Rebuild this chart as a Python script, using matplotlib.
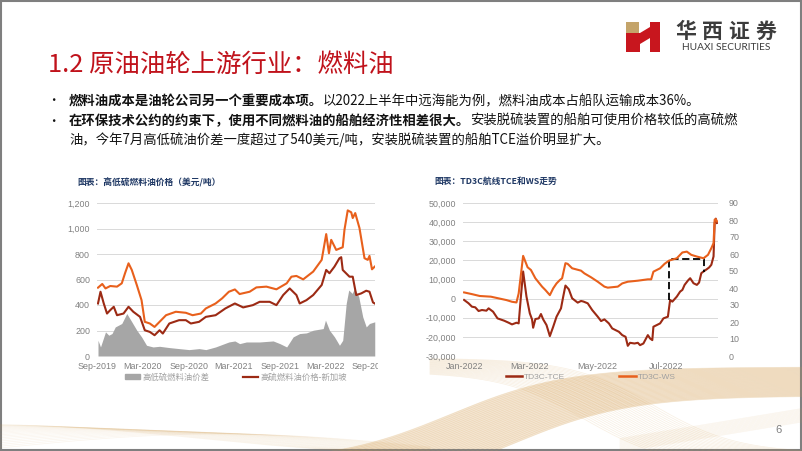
import matplotlib
matplotlib.use('Agg')
import matplotlib.pyplot as plt
import matplotlib.dates as mdates
from matplotlib.ticker import FuncFormatter, MultipleLocator
from matplotlib.patches import Rectangle, Polygon, Patch
from matplotlib.lines import Line2D
from matplotlib.transforms import Bbox
import numpy as np
import pandas as pd

# ---------------- data: left chart (USD/ton) ----------------
lsfo_dates = ['2019-09-05', '2019-09-22', '2019-10-05', '2019-10-24', '2019-11-20', '2019-12-09',
              '2019-12-22', '2020-01-05', '2020-01-18', '2020-02-07', '2020-02-26', '2020-03-10',
              '2020-03-30', '2020-04-18', '2020-05-08', '2020-06-03', '2020-07-12', '2020-08-21',
              '2020-09-17', '2020-10-20', '2020-11-09', '2020-12-18', '2021-01-13', '2021-02-09',
              '2021-03-05', '2021-03-24', '2021-05-03', '2021-05-30', '2021-07-09', '2021-08-18',
              '2021-09-28', '2021-10-17', '2021-11-06', '2021-12-03', '2022-01-12', '2022-02-15',
              '2022-03-05', '2022-03-16', '2022-03-25', '2022-04-14', '2022-05-10', '2022-05-17',
              '2022-05-30', '2022-06-13', '2022-06-19', '2022-06-29', '2022-07-16', '2022-08-05',
              '2022-08-18', '2022-08-25', '2022-09-04', '2022-09-15']
lsfo_vals = [536, 565, 530, 549, 544, 570, 649, 727, 675, 557, 438, 268, 255, 228, 268, 320, 347, 339,
             320, 333, 373, 412, 452, 504, 522, 486, 504, 538, 544, 523, 570, 622, 628, 601, 662, 754,
             956, 806, 911, 832, 853, 990, 1142, 1127, 1082, 1121, 1003, 767, 754, 785, 680, 701]

hsfo_dates = ['2019-09-05', '2019-09-15', '2019-09-28', '2019-10-11', '2019-10-24', '2019-11-07',
              '2019-11-20', '2019-12-16', '2020-01-05', '2020-01-24', '2020-02-20', '2020-03-10',
              '2020-03-30', '2020-04-18', '2020-05-08', '2020-05-21', '2020-06-16', '2020-07-25',
              '2020-08-21', '2020-09-10', '2020-10-13', '2020-11-09', '2020-12-18', '2021-01-26',
              '2021-03-05', '2021-04-07', '2021-05-16', '2021-06-12', '2021-07-22', '2021-08-18',
              '2021-09-14', '2021-10-10', '2021-11-06', '2021-11-19', '2021-12-16', '2022-01-12',
              '2022-02-15', '2022-03-05', '2022-03-18', '2022-04-07', '2022-04-27', '2022-05-04',
              '2022-05-10', '2022-06-06', '2022-06-19', '2022-07-03', '2022-07-23', '2022-08-12',
              '2022-08-25', '2022-09-08', '2022-09-15']
hsfo_vals = [412, 504, 412, 333, 360, 386, 320, 333, 386, 347, 307, 202, 189, 163, 202, 176, 255, 281,
             281, 255, 268, 307, 320, 373, 412, 381, 399, 425, 425, 399, 478, 530, 478, 412, 438, 478,
             557, 675, 649, 701, 767, 775, 675, 622, 622, 478, 491, 512, 504, 420, 412]

spread_dates = ['2019-09-05', '2019-09-15', '2019-10-05', '2019-10-18', '2019-10-31', '2019-11-13',
                '2019-12-09', '2019-12-29', '2020-01-18', '2020-02-07', '2020-02-26', '2020-03-17',
                '2020-04-12', '2020-05-08', '2020-06-16', '2020-07-25', '2020-09-03', '2020-10-13',
                '2020-11-09', '2020-12-18', '2021-02-09', '2021-03-05', '2021-03-24', '2021-04-20',
                '2021-06-12', '2021-08-05', '2021-09-01', '2021-09-28', '2021-10-24', '2021-11-19',
                '2021-12-16', '2022-01-12', '2022-02-21', '2022-03-02', '2022-03-18', '2022-04-07',
                '2022-04-27', '2022-05-10', '2022-05-24', '2022-06-03', '2022-06-17', '2022-06-26',
                '2022-07-13', '2022-07-29', '2022-08-12', '2022-08-25', '2022-09-15']
spread_vals = [123, 71, 189, 163, 176, 228, 255, 333, 268, 202, 150, 84, 71, 76, 66, 58, 50, 58, 50, 71,
               110, 118, 97, 110, 110, 118, 97, 71, 150, 176, 181, 202, 215, 281, 202, 150, 84, 123,
               412, 517, 491, 530, 465, 307, 228, 255, 268]

left_yticks = [0, 200, 400, 600, 800, 1000, 1200]
left_legend = ['高低硫燃料油价差', '高硫燃料油价格-新加坡']

# ---------------- data: right chart ----------------
tce_dates = ['2022-01-01', '2022-01-05', '2022-01-08', '2022-01-11', '2022-01-14', '2022-01-17',
             '2022-01-21', '2022-01-23', '2022-01-27', '2022-01-31', '2022-02-06', '2022-02-10',
             '2022-02-13', '2022-02-17', '2022-02-19', '2022-02-21', '2022-02-23', '2022-02-26',
             '2022-03-01', '2022-03-03', '2022-03-04', '2022-03-06', '2022-03-09', '2022-03-11',
             '2022-03-13', '2022-03-16', '2022-03-19', '2022-03-22', '2022-03-25', '2022-03-29',
             '2022-03-31', '2022-04-02', '2022-04-05', '2022-04-08', '2022-04-13', '2022-04-16',
             '2022-04-18', '2022-04-22', '2022-04-26', '2022-05-01', '2022-05-04', '2022-05-07',
             '2022-05-11', '2022-05-14', '2022-05-17', '2022-05-20', '2022-05-23', '2022-05-26',
             '2022-05-28', '2022-05-30', '2022-06-03', '2022-06-06', '2022-06-08', '2022-06-11',
             '2022-06-15', '2022-06-17', '2022-06-19', '2022-06-20', '2022-06-23', '2022-06-26',
             '2022-06-29', '2022-07-03', '2022-07-05', '2022-07-07', '2022-07-11', '2022-07-14',
             '2022-07-16', '2022-07-18', '2022-07-21', '2022-07-23', '2022-07-26', '2022-07-29',
             '2022-07-31', '2022-08-02', '2022-08-04', '2022-08-07', '2022-08-09', '2022-08-11',
             '2022-08-13', '2022-08-14', '2022-08-15', '2022-08-16']
tce_vals = [-700, -2450, -4200, -4550, -6480, -5950, -6300, -5080, -6830, -10330, -11550, -12600,
            -13480, -12600, -12950, 1050, 14180, 1050, -7700, -10850, -15230, -10680, -10330, -8050,
            -10850, -13830, -19600, -14700, -9450, -5080, 1050, 6830, 4900, 175, -2100, -1230,
            -1500, -2450, -5950, -9450, -11730, -10850, -12950, -15580, -16460, -17330, -19080, -19960,
            -24680, -23100, -23460, -23100, -24330, -23460, -19080, -20830, -21700, -14700, -13830, -12950,
            -10330, -9450, -700, -1580, 1050, 3680, 4550, 7180, 9450, 10680, 8050, 7180,
            8400, 13300, 14180, 15400, 16280, 17680, 22060, 39550, 41830, 39550]

ws_dates = ['2022-01-01', '2022-01-08', '2022-01-15', '2022-01-25', '2022-02-01', '2022-02-08',
            '2022-02-13', '2022-02-17', '2022-02-19', '2022-02-23', '2022-02-27', '2022-03-02',
            '2022-03-06', '2022-03-12', '2022-03-15', '2022-03-19', '2022-03-22', '2022-03-25',
            '2022-03-28', '2022-03-30', '2022-04-02', '2022-04-04', '2022-04-08', '2022-04-16',
            '2022-04-19', '2022-04-25', '2022-05-01', '2022-05-07', '2022-05-10', '2022-05-19',
            '2022-05-23', '2022-05-28', '2022-06-06', '2022-06-15', '2022-06-18', '2022-06-20',
            '2022-06-26', '2022-06-30', '2022-07-04', '2022-07-11', '2022-07-16', '2022-07-20',
            '2022-07-24', '2022-07-29', '2022-08-04', '2022-08-08', '2022-08-11', '2022-08-13',
            '2022-08-14', '2022-08-15', '2022-08-16']
ws_vals = [37.4, 36.4, 35.3, 34.9, 33.9, 32.9, 31.9, 31.5, 36.8, 58.9, 52.2, 50.6, 45.7, 40.8, 38.8,
           35.8, 39.8, 42.7, 44.7, 45.7, 54.6, 54.2, 51.6, 50.2, 48.6, 46.3, 43.7, 40.8, 40.2, 40.8,
           42.7, 43.7, 44.3, 45.1, 45.1, 49.6, 51.6, 54.2, 56.1, 57.5, 60.9, 61.4, 59.5, 58.5, 57.5,
           59.5, 63.4, 66.4, 80.2, 80.5, 79.2]

box_dates = ['2022-07-04', '2022-08-04']
box_tce = [-700, 20650, 20650, 14180]   # left-bottom, top, top, right-bottom
right_legend = ['TD3C-TCE', 'TD3C-WS']

# ---------------- text ----------------
title = '1.2 原油油轮上游行业：燃料油'
bullet1 = [('燃料油成本是油轮公司另一个重要成本项。', 'bold'),
           ('以2022上半年中远海能为例，燃料油成本占船队运输成本36%。', 'normal')]
bullet2 = [('在环保技术公约的约束下，使用不同燃料油的船舶经济性相差很大。', 'bold'),
           ('安装脱硫装置的船舶可使用价格较低的高硫燃', 'normal')]
bullet2b = [('油，今年7月高低硫油价差一度超过了540美元/吨，安装脱硫装置的船舶TCE溢价明显扩大。', 'normal')]
left_title = '图表：高低硫燃料油价格（美元/吨）'
right_title = '图表：TD3C航线TCE和WS走势'

CJK = ['Noto Sans CJK SC', 'DejaVu Sans']
NUM = ['Liberation Sans', 'DejaVu Sans']

W, H = 802, 451
fig = plt.figure(figsize=(W / 100, H / 100), dpi=100)
fig.patch.set_facecolor('white')


def fx(px):
    return px / W


def fy(py):
    return 1 - py / H


# ---------------- decorative background ----------------
bg = fig.add_axes([0, 0, 1, 1], zorder=0)
bg.set_xlim(0, W)
bg.set_ylim(H, 0)
bg.axis('off')
gold = '#D29A48'
xs = np.linspace(0, W, 500)
for k in range(30):
    y = 462 - 95 / (1 + np.exp(-(xs - (450 + k * 2.2)) / 58)) + k * 1.0
    bg.plot(xs, y, color=gold, lw=0.5, alpha=0.2)
lo = 462 - 95 / (1 + np.exp(-(xs - 450) / 58))
hi = 462 - 95 / (1 + np.exp(-(xs - 514) / 58)) + 29
bg.fill_between(xs, lo, hi, color=gold, alpha=0.24, lw=0)
xs2 = np.linspace(430, W, 300)
for k in range(24):
    y = 372 + 95 / (1 + np.exp(-(xs2 - (585 + k * 3)) / 42)) - k * 0.6
    bg.plot(xs2, y, color=gold, lw=0.5, alpha=0.16)
xs3 = np.linspace(0, 430, 300)
for k in range(20):
    y = 448 - 14 * np.sin(xs3 / 140 + k * 0.09) - k * 0.5
    bg.plot(xs3, y, color=gold, lw=0.5, alpha=0.1)
xs4 = np.linspace(620, W, 200)
for k in range(16):
    y = 452 - 30 * (xs4 - 620) / 182 - k * 0.9
    bg.plot(xs4, y, color=gold, lw=0.5, alpha=0.1)

# logo
bg.add_patch(Rectangle((626, 22), 13, 11, color='#C4A46A', lw=0))
bg.add_patch(Polygon([(626, 33), (640, 33), (650, 27), (650, 22), (660, 22), (660, 52), (650, 52),
                      (650, 38), (640, 44), (640, 52), (626, 52)], closed=True, color='#C8161E', lw=0))
for i, ch in enumerate('华西证券'):
    bg.text(686 + i * 26.5, 31, ch, fontsize=15, fontweight='bold', color='#3C3C3C',
            ha='center', va='center', family=CJK)
bg.text(726, 48, 'HUAXI SECURITIES', fontsize=7.3, color='#3C3C3C', ha='center', va='center',
        family=['Lato', 'DejaVu Sans'])
bg.text(778, 430, '6', fontsize=8, color='#7F7F7F', ha='center', va='center', family=NUM)
bg.add_patch(Rectangle((0.75, 0.75), W - 1.5, H - 1.5, fill=False, edgecolor='#7F7F7F', lw=1.5))

# ---------------- text ----------------
fig.text(fx(48), fy(65), title, fontsize=18.3, color='#C0121B', va='center', ha='left', family=CJK)
renderer = fig.canvas.get_renderer()


def rich(x, y, parts, size=9.6):
    cur = x
    for txt, wt in parts:
        t = fig.text(cur / W, fy(y), txt, fontsize=size, fontweight=wt, color='#111111',
                     va='center', ha='left', family=CJK)
        cur = t.get_window_extent(renderer).x1


fig.text(fx(47), fy(101), '•', fontsize=9, color='#111111', va='center', ha='left', family=CJK)
fig.text(fx(47), fy(121), '•', fontsize=9, color='#111111', va='center', ha='left', family=CJK)
rich(69, 101, bullet1)
rich(69, 121, bullet2)
rich(69, 140, bullet2b)

fig.text(fx(77), fy(183), left_title, fontsize=6.3, fontweight='bold', color='#1F3864',
         va='center', ha='left', family=CJK)
fig.text(fx(434), fy(181), right_title, fontsize=6.3, fontweight='bold', color='#1F3864',
         va='center', ha='left', family=CJK)

grid_c = '#D9D9D9'
tick_c = '#808080'
dark_red = '#9C2A14'
orange = '#E8601C'


def style(ax):
    ax.set_facecolor('none')
    for s in ax.spines.values():
        s.set_visible(False)
    ax.tick_params(length=0, labelsize=6.4, labelcolor=tick_c)
    for lab in ax.get_xticklabels() + ax.get_yticklabels():
        lab.set_family(NUM)


# ---------------- left chart ----------------
ax1 = fig.add_axes([fx(97), fy(356), (375 - 97) / W, (356 - 203) / H], zorder=2)
sd = pd.to_datetime(spread_dates)
ax1.fill_between(sd, spread_vals, 0, color='#A6A6A6', lw=0)
ax1.plot(pd.to_datetime(lsfo_dates), lsfo_vals, color=orange, lw=1.5)
ax1.plot(pd.to_datetime(hsfo_dates), hsfo_vals, color=dark_red, lw=1.5)
ax1.set_ylim(0, 1200)
ax1.set_yticks(left_yticks)
ax1.yaxis.set_major_formatter(FuncFormatter(lambda v, p: f'{int(v):,}'))
ax1.set_xlim(pd.Timestamp('2019-09-01'), pd.Timestamp('2022-09-16'))
ax1.xaxis.set_major_locator(mdates.MonthLocator(bymonth=(3, 9), bymonthday=1))
ax1.xaxis.set_major_formatter(mdates.DateFormatter('%b-%Y'))
ax1.grid(axis='y', color=grid_c, lw=0.7)
ax1.set_axisbelow(True)
style(ax1)
ax1.tick_params(axis='y', pad=5)
ax1.tick_params(axis='x', pad=4)
clip = Bbox.from_extents(0, 0, 378, H)
for lab in ax1.get_xticklabels():
    lab.set_clip_box(clip)
    lab.set_clip_on(True)
h1 = [Patch(color='#A6A6A6'), Line2D([], [], color=dark_red, lw=1.6)]
lg1 = ax1.legend(h1, left_legend, loc='center', bbox_to_anchor=(0.5, -0.137), ncol=2, frameon=False,
                 prop={'family': CJK, 'size': 6}, columnspacing=4.0, handlelength=1.8,
                 handletextpad=0.3, handleheight=0.6)
for t in lg1.get_texts():
    t.set_color('#A0A0A0')

# ---------------- right chart ----------------
ax2 = fig.add_axes([fx(463), fy(356), 255 / W, (356 - 203) / H], zorder=2)
ax2r = ax2.twinx()
td = pd.to_datetime(tce_dates)
wd = pd.to_datetime(ws_dates)
ax2.plot(td, tce_vals, color=dark_red, lw=1.5, zorder=3)
ax2r.plot(wd, ws_vals, color=orange, lw=1.5, zorder=3)
bd = pd.to_datetime(box_dates)
ax2.plot([bd[0], bd[0], bd[1], bd[1]], box_tce, color='black', lw=1.3, ls=(0, (4, 2)), zorder=4)
ax2.set_ylim(-30000, 50000)
ax2.yaxis.set_major_locator(MultipleLocator(10000))
ax2.yaxis.set_major_formatter(FuncFormatter(lambda v, p: f'{int(v):,}'))
ax2r.set_ylim(0, 90)
ax2r.yaxis.set_major_locator(MultipleLocator(10))
ax2.set_xlim(pd.Timestamp('2021-12-31'), pd.Timestamp('2022-08-17'))
ax2.xaxis.set_major_locator(mdates.MonthLocator(bymonth=(1, 3, 5, 7), bymonthday=1))
ax2.xaxis.set_major_formatter(mdates.DateFormatter('%b-%Y'))
ax2.grid(axis='y', color=grid_c, lw=0.7)
ax2.set_axisbelow(True)
style(ax2)
style(ax2r)
ax2.tick_params(axis='y', pad=5)
ax2.tick_params(axis='x', pad=4)
ax2r.tick_params(axis='y', pad=8)
h2 = [Line2D([], [], color=dark_red, lw=1.8), Line2D([], [], color=orange, lw=1.8)]
lg2 = ax2r.legend(h2, right_legend, loc='center', bbox_to_anchor=(0.5, -0.137), ncol=2, frameon=False,
                  prop={'family': NUM, 'size': 6}, columnspacing=6.5, handlelength=2.0,
                  handletextpad=0.2)
for t in lg2.get_texts():
    t.set_color('#A0A0A0')

fig.savefig('out.png', dpi=100, facecolor='white')
